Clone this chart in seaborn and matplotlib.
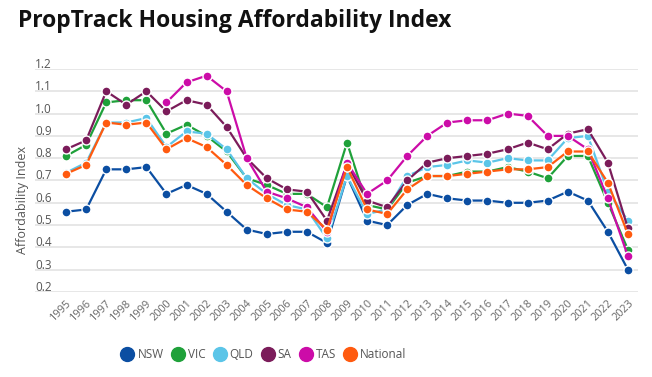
import matplotlib.pyplot as plt
import matplotlib.transforms as mtransforms
import numpy as np
import pandas as pd
import seaborn as sns

years = list(range(1995, 2024))
regions = ["NSW", "VIC", "QLD", "SA", "TAS", "National"]
colors = ["#0b4ea2", "#1fa13a", "#5bc5e8", "#7b1c5a", "#cc0ca8", "#ff5a0f"]

nsw = [0.56, 0.57, 0.75, 0.75, 0.76, 0.64, 0.68, 0.64, 0.56, 0.48, 0.46, 0.47, 0.47, 0.42, 0.72,
       0.52, 0.50, 0.59, 0.64, 0.62, 0.61, 0.61, 0.60, 0.60, 0.61, 0.65, 0.61, 0.47, 0.30]
vic = [0.81, 0.86, 1.05, 1.06, 1.06, 0.91, 0.95, 0.90, 0.83, 0.71, 0.68, 0.64, 0.64, 0.58, 0.87,
       0.59, 0.57, 0.69, 0.72, 0.72, 0.74, 0.74, 0.76, 0.74, 0.71, 0.81, 0.81, 0.60, 0.39]
qld = [0.735, 0.78, 0.96, 0.96, 0.98, 0.85, 0.92, 0.91, 0.84, 0.71, 0.64, 0.59, 0.57, 0.44, 0.72,
       0.55, 0.57, 0.72, 0.76, 0.77, 0.79, 0.78, 0.80, 0.79, 0.79, 0.89, 0.90, 0.65, 0.52]
sa = [0.84, 0.88, 1.10, 1.04, 1.10, 1.01, 1.06, 1.04, 0.94, 0.80, 0.71, 0.66, 0.65, 0.52, 0.775,
      0.61, 0.58, 0.70, 0.78, 0.80, 0.81, 0.82, 0.84, 0.87, 0.84, 0.91, 0.93, 0.78, 0.485]
tas = [np.nan, np.nan, np.nan, np.nan, np.nan, 1.05, 1.14, 1.17, 1.10, 0.80, 0.65, 0.62, 0.58, 0.47, 0.78,
       0.64, 0.70, 0.81, 0.90, 0.96, 0.97, 0.97, 1.00, 0.99, 0.90, 0.90, 0.84, 0.62, 0.36]
national = [0.73, 0.77, 0.96, 0.95, 0.96, 0.84, 0.89, 0.85, 0.77, 0.68, 0.62, 0.57, 0.56, 0.48, 0.76,
            0.57, 0.55, 0.66, 0.72, 0.72, 0.73, 0.74, 0.75, 0.75, 0.76, 0.83, 0.83, 0.69, 0.46]

series = dict(zip(regions, [nsw, vic, qld, sa, tas, national]))
df = pd.DataFrame(
    [(y, r, v) for r, vals in series.items() for y, v in zip(years, vals)],
    columns=["Year", "Region", "Index"],
)

sns.set_theme(style="white")
plt.rcParams["font.family"] = ["Open Sans", "DejaVu Sans"]

fig = plt.figure(figsize=(6.52, 3.77), dpi=100)
ax = fig.add_axes([0.0537, 0.2255, 0.9248, 0.5915])

sns.lineplot(
    data=df, x="Year", y="Index", hue="Region", hue_order=regions,
    palette=colors, marker="o", markersize=6.5, markeredgecolor="white",
    markeredgewidth=1, linewidth=1.6, ax=ax, legend=False, clip_on=False,
)

ax.set_xlim(1993.45, 2023.5)
ax.set_ylim(0.2, 1.2)
ax.set_yticks(np.round(np.arange(0.2, 1.21, 0.1), 1))
ax.set_yticklabels([f"{v:.1f}" for v in ax.get_yticks()])
ax.set_xticks(years)
ax.set_xticklabels([str(y) for y in years], rotation=45, ha="right", rotation_mode="anchor")
ax.grid(axis="y", color="#e3e3e3", linewidth=1.2)
ax.set_axisbelow(True)
for s in ax.spines.values():
    s.set_visible(False)
ax.set_xlabel("")
ax.set_ylabel("")

ax.tick_params(axis="y", length=0, pad=0, labelsize=8.5, labelcolor="#555555")
ax.tick_params(axis="x", length=0, pad=4, labelsize=7.8, labelcolor="#666666")
# y labels sit just above their gridlines, inside the plot area
offset = mtransforms.ScaledTranslation(0, 6 / 100, fig.dpi_scale_trans)
for lab in ax.get_yticklabels():
    lab.set_horizontalalignment("left")
    lab.set_transform(ax.get_yaxis_transform() + offset)
    lab.set_x(0.0)

fig.text(0.034, 0.47, "Affordability Index", rotation=90, ha="center", va="center",
         fontsize=9, color="#555555")
fig.text(0.027, 0.945, "PropTrack Housing Affordability Index", ha="left", va="center",
         fontsize=16.5, fontweight="bold", color="#111111")

handles = [plt.Line2D([], [], marker="o", linestyle="", markersize=10, color=c) for c in colors]
fig.legend(handles, regions, loc="center", bbox_to_anchor=(0.405, 0.06), ncol=6,
           frameon=False, fontsize=8.5, labelcolor="#555555", handletextpad=0.35,
           columnspacing=0.7, handlelength=1.0)

fig.savefig("out.png", dpi=100)
